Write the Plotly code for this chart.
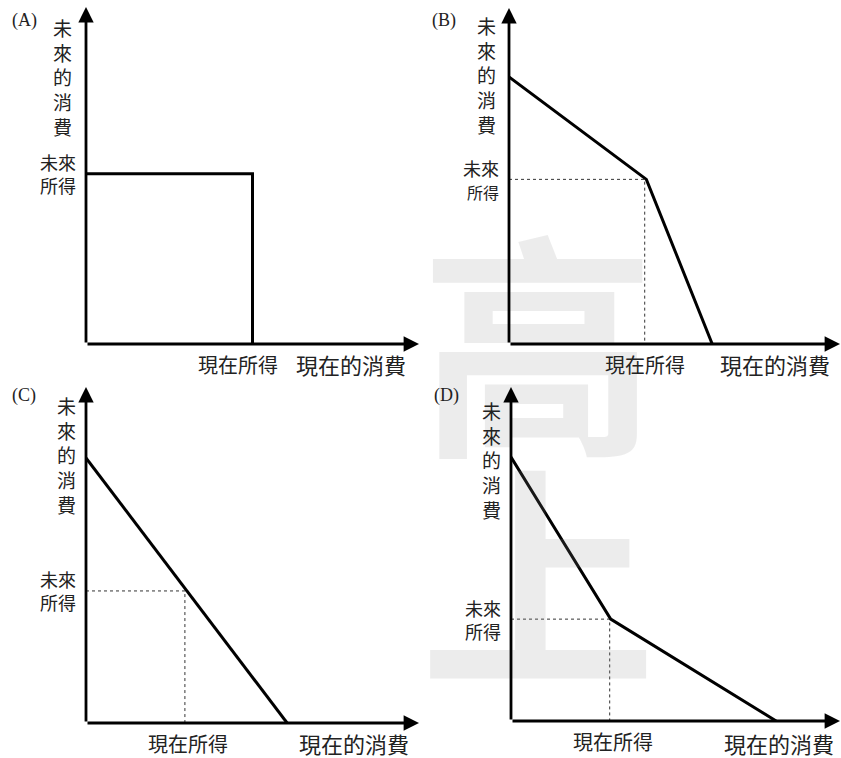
import plotly.graph_objects as go

W, H = 841, 758

# ---------------- data (abstract units, axes run 0..10) ----------------
panel_names = ["A", "B", "C", "D"]

A_x = [0, 5.0, 5.0]
A_y = [5.05, 5.05, 0]
A_endow = (5.0, 5.05)

B_x = [0, 4.15, 6.14]
B_y = [7.95, 4.9, 0]
B_endow = (4.1, 4.9)

C_x = [0, 6.04]
C_y = [7.89, 0]
C_endow = (2.97, 3.93)

D_x = [0, 3.03, 8.06]
D_y = [7.9, 3.05, 0]
D_endow = (3.0, 3.05)

curves_x = {"A": A_x, "B": B_x, "C": C_x, "D": D_x}
curves_y = {"A": A_y, "B": B_y, "C": C_y, "D": D_y}
endow = {"A": A_endow, "B": B_endow, "C": C_endow, "D": D_endow}
show_dash = {"A": False, "B": True, "C": True, "D": True}

y_title = "未<br>來<br>的<br>消<br>費"
y_income = "未來<br>所得"
x_income = "現在所得"
x_title = "現在的消費"
watermark = ["高", "上"]

# ---------------- layout geometry (pixels) ----------------
# origin x, origin y, x-arrow tip, y-arrow tip
geom = {
    "A": (86, 344, 419, 7),
    "B": (509, 344, 840, 8),
    "C": (86, 723, 419, 387),
    "D": (511, 721, 840, 387),
}


def X(p):
    return p / W


def Y(p):
    return 1 - p / H


CJK = "Noto Sans CJK TC"
TXT = "#222222"
WM = "rgba(140,140,140,0.17)"

fig = go.Figure()
layout = dict(
    width=W, height=H,
    margin=dict(l=0, r=0, t=0, b=0),
    paper_bgcolor="white", plot_bgcolor="rgba(0,0,0,0)",
    showlegend=False,
)
annotations = []

# watermark (semi-transparent, overlaid)
annotations.append(dict(text="<b>%s</b>" % watermark[0], xref="paper", yref="paper",
                        x=X(538), y=Y(335), xanchor="center", yanchor="middle",
                        showarrow=False,
                        font=dict(family=CJK, size=236, color=WM)))
annotations.append(dict(text="<b>%s</b>" % watermark[1], xref="paper", yref="paper",
                        x=X(538), y=Y(566), xanchor="center", yanchor="middle",
                        showarrow=False,
                        font=dict(family=CJK, size=236, color=WM)))

for i, name in enumerate(panel_names):
    ox, oy, xt, yt = geom[name]
    suffix = "" if i == 0 else str(i + 1)
    xa, ya = "x" + suffix, "y" + suffix
    layout["xaxis" + suffix] = dict(domain=[X(ox), X(xt)], range=[0, 10],
                                    visible=False, fixedrange=True, anchor=ya)
    layout["yaxis" + suffix] = dict(domain=[Y(oy), Y(yt)], range=[0, 10],
                                    visible=False, fixedrange=True, anchor=xa)

    ex, ey = endow[name]
    if show_dash[name]:
        fig.add_trace(go.Scatter(x=[0, ex, ex], y=[ey, ey, 0], xaxis=xa, yaxis=ya,
                                 mode="lines", hoverinfo="skip",
                                 line=dict(color="#333333", width=1, dash="dot")))
    fig.add_trace(go.Scatter(x=curves_x[name], y=curves_y[name], xaxis=xa, yaxis=ya,
                             mode="lines", hoverinfo="skip",
                             line=dict(color="black", width=3)))

    # axes with arrowheads
    annotations.append(dict(x=10, y=0, ax=0, ay=0, xref=xa, yref=ya, axref=xa, ayref=ya,
                            showarrow=True, arrowhead=2, arrowsize=1.1, arrowwidth=2.8,
                            arrowcolor="black", text=""))
    annotations.append(dict(x=0, y=10, ax=0, ay=0, xref=xa, yref=ya, axref=xa, ayref=ya,
                            showarrow=True, arrowhead=2, arrowsize=1.1, arrowwidth=2.8,
                            arrowcolor="black", text=""))

# panel letters
letter_pos = {"A": (10, 20), "B": (430, 20), "C": (10, 395), "D": (432, 395)}
for name in panel_names:
    lx, ly = letter_pos[name]
    annotations.append(dict(text="(%s)" % name, xref="paper", yref="paper",
                            x=X(lx), y=Y(ly), xanchor="left", yanchor="middle",
                            showarrow=False,
                            font=dict(family="Liberation Serif", size=18, color=TXT)))

# vertical y-axis titles (center x, top y)
ytitle_pos = {"A": (63, 12), "B": (486, 10), "C": (66, 390), "D": (491, 395)}
for name in panel_names:
    tx, ty = ytitle_pos[name]
    annotations.append(dict(text=y_title, xref="paper", yref="paper",
                            x=X(tx), y=Y(ty), xanchor="center", yanchor="top",
                            showarrow=False, align="center",
                            font=dict(family=CJK, size=19, color=TXT)))

# future income labels, anchored to the endowment level on each y axis
for i, name in enumerate(panel_names):
    suffix = "" if i == 0 else str(i + 1)
    ex, ey = endow[name]
    txt = y_income if name != "B" else "未來<br><span style='font-size:16px'>所得</span>"
    annotations.append(dict(text=txt, xref="x" + suffix, yref="y" + suffix,
                            x=0, y=ey, xanchor="right", yanchor="middle", xshift=-8,
                            showarrow=False, align="right",
                            font=dict(family=CJK, size=18, color=TXT)))

# current income labels, anchored to the endowment on each x axis
xinc_shift = {"A": -15, "B": 0, "C": 3, "D": 3}
for i, name in enumerate(panel_names):
    suffix = "" if i == 0 else str(i + 1)
    ex, ey = endow[name]
    annotations.append(dict(text=x_income, xref="x" + suffix, yref="y" + suffix,
                            x=ex, y=0, xanchor="center", yanchor="top",
                            xshift=xinc_shift[name], yshift=-4,
                            showarrow=False,
                            font=dict(family=CJK, size=20, color=TXT)))

# x-axis titles
xtitle_pos = {"A": (351, 364), "B": (775, 364), "C": (354, 743), "D": (779, 743)}
for name in panel_names:
    tx, ty = xtitle_pos[name]
    annotations.append(dict(text=x_title, xref="paper", yref="paper",
                            x=X(tx), y=Y(ty), xanchor="center", yanchor="middle",
                            showarrow=False, borderpad=0,
                            font=dict(family=CJK, size=22, color=TXT)))

layout["annotations"] = annotations
fig.update_layout(**layout)
fig.write_html("out.html",
               config={"displayModeBar": False},
               post_script="document.body.style.margin='0';document.body.style.overflow='hidden';")
